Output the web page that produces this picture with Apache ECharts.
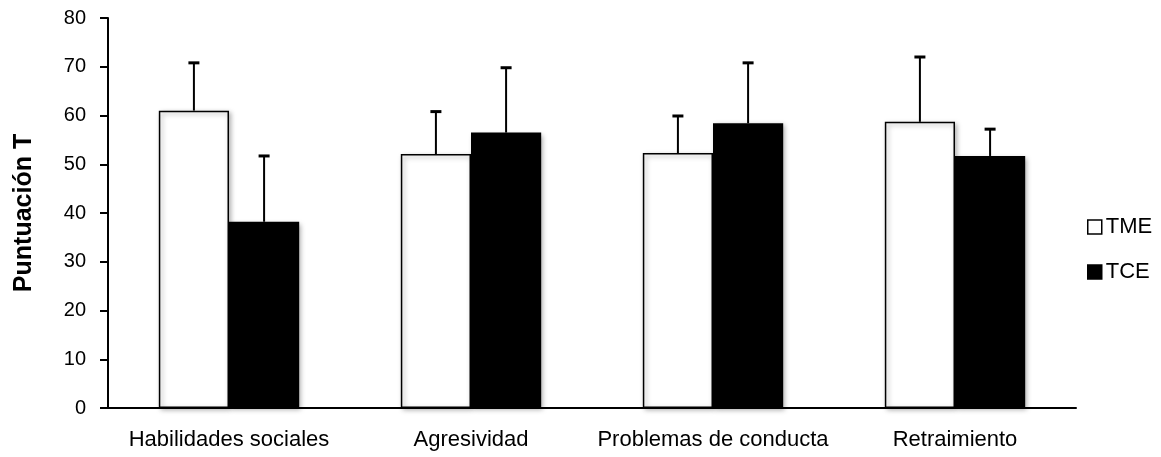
<!DOCTYPE html>
<html>
<head>
<meta charset="utf-8">
<script src="https://cdn.jsdelivr.net/npm/echarts@6/dist/echarts.min.js"></script>
<style>
  html, body { margin: 0; padding: 0; background: #fff; }
  #chart { width: 1161px; height: 457px; }
</style>
</head>
<body>
<div id="chart"></div>
<script>
// Categories and group means with standard deviations
var categories = ['Habilidades sociales', 'Agresividad', 'Problemas de conducta', 'Retraimiento'];
var tmeMeans = [61.0, 52.1, 52.3, 58.7];
var tmeSD = [9.8, 8.7, 7.6, 13.3];
var tceMeans = [38.2, 56.5, 58.4, 51.7];
var tceSD = [13.5, 13.3, 12.4, 5.5];
var yTicks = { min: 0, max: 80, interval: 10 };

var FONT = '"Liberation Sans", Arial, sans-serif';
var BAR_FRAC = 0.29; // bar width as a fraction of the category band

// Upward-only error whiskers centred on each bar
function whisker(means, sds, side) {
  return {
    type: 'custom',
    silent: true,
    z: 5,
    data: means.map(function (m, i) { return [i, m, m + sds[i]]; }),
    renderItem: function (params, api) {
      var band = api.size([1, 0])[0];
      var base = api.coord([api.value(0), api.value(1)]);
      var top = api.coord([api.value(0), api.value(2)]);
      var x = base[0] + side * band * BAR_FRAC / 2;
      var cap = 5.5;
      return {
        type: 'group',
        children: [
          { type: 'line', shape: { x1: x, y1: base[1], x2: x, y2: top[1] },
            style: { stroke: '#000', lineWidth: 2 } },
          { type: 'line', shape: { x1: x - cap, y1: top[1], x2: x + cap, y2: top[1] },
            style: { stroke: '#000', lineWidth: 3 } }
        ]
      };
    }
  };
}

var chart = echarts.init(document.getElementById('chart'));
chart.setOption({
  animation: false,
  backgroundColor: '#fff',
  grid: { left: 108, right: 85, top: 18, bottom: 49 },
  legend: {
    orient: 'vertical',
    left: 1082,
    top: 211,
    icon: 'rect',
    itemWidth: 14,
    itemHeight: 14,
    itemGap: 23,
    itemStyle: { borderColor: '#000', borderWidth: 1.5 },
    textStyle: { fontFamily: FONT, fontSize: 22, color: '#000', padding: [0, 0, 0, -1] },
    data: ['TME', 'TCE']
  },
  xAxis: {
    type: 'category',
    data: categories,
    axisLine: { lineStyle: { color: '#000', width: 2 } },
    axisTick: { show: false },
    axisLabel: { interval: 0, hideOverlap: false, fontFamily: FONT, fontSize: 22, color: '#000', margin: 21 }
  },
  yAxis: {
    type: 'value',
    min: yTicks.min,
    max: yTicks.max,
    interval: yTicks.interval,
    name: 'Puntuación T',
    nameLocation: 'middle',
    nameGap: 71,
    nameTextStyle: { fontFamily: FONT, fontSize: 25, fontWeight: 'bold', color: '#000' },
    splitLine: { show: false },
    axisLine: { show: true, lineStyle: { color: '#000', width: 2 } },
    axisTick: { show: true, length: 8, lineStyle: { color: '#000', width: 2 } },
    axisLabel: { fontFamily: FONT, fontSize: 20, color: '#000', margin: 22 }
  },
  series: [
    {
      name: 'TME',
      type: 'bar',
      data: tmeMeans,
      barWidth: (BAR_FRAC * 100) + '%',
      barGap: '0%',
      itemStyle: {
        color: '#fff', borderColor: '#000', borderWidth: 1.5,
        shadowBlur: 5, shadowColor: 'rgba(0,0,0,0.35)', shadowOffsetX: 2, shadowOffsetY: 2
      }
    },
    {
      name: 'TCE',
      type: 'bar',
      data: tceMeans,
      barWidth: (BAR_FRAC * 100) + '%',
      barGap: '0%',
      itemStyle: {
        color: '#000', borderColor: '#000', borderWidth: 0,
        shadowBlur: 5, shadowColor: 'rgba(0,0,0,0.35)', shadowOffsetX: 2, shadowOffsetY: 2
      }
    },
    whisker(tmeMeans, tmeSD, -1),
    whisker(tceMeans, tceSD, 1)
  ]
});
</script>
</body>
</html>
